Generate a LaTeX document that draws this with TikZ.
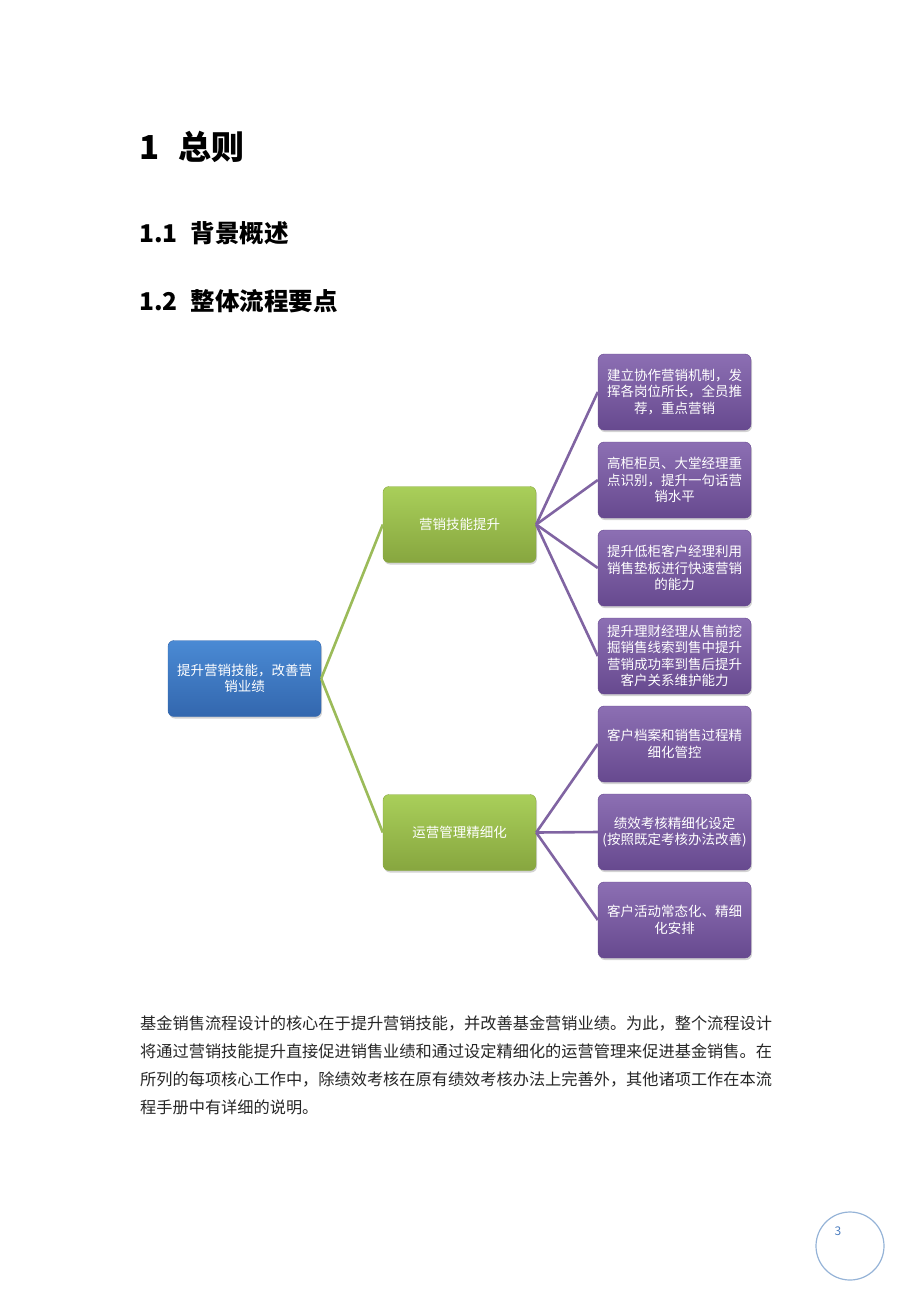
\documentclass[tikz,border=0pt]{standalone}
\usepackage{fontspec}
\setmainfont{Noto Sans CJK SC}
\usetikzlibrary{shadows}

\definecolor{rootblue}{HTML}{4A8AD4}
\definecolor{rootbluedk}{HTML}{3367AE}
\definecolor{leafgreen}{HTML}{A9CF5A}
\definecolor{leafgreendk}{HTML}{87A63F}
\definecolor{leafpurple}{HTML}{8C6FB3}
\definecolor{leafpurpledk}{HTML}{67498F}
\definecolor{linegreen}{HTML}{9BBB59}
\definecolor{linepurple}{HTML}{8064A2}
\definecolor{pageblue}{HTML}{95B3D7}
\definecolor{numblue}{HTML}{4F7FC0}

\begin{document}
\begin{tikzpicture}
  [x=1pt, y=-1pt,
   box/.style={rounded corners=6pt, minimum width=153pt, minimum height=76pt,
     align=center, text=white, font=\fontsize{13.5}{16.5}\selectfont,
     drop shadow={shadow xshift=1pt, shadow yshift=-2pt, opacity=.35}},
   rootbox/.style={box, top color=rootblue, bottom color=rootbluedk, draw=rootbluedk},
   midbox/.style={box, top color=leafgreen, bottom color=leafgreendk, draw=leafgreendk},
   leafbox/.style={box, top color=leafpurple, bottom color=leafpurpledk, draw=leafpurpledk},
   greenline/.style={draw=linegreen, line width=2.6pt},
   purpleline/.style={draw=linepurple, line width=2.6pt},
   head/.style={anchor=west, inner sep=0pt, font=\bfseries\fontsize{#1}{#1}\selectfont},
   bodyline/.style={anchor=west, text=black!85, inner sep=0pt, font=\fontsize{16.2}{20}\selectfont}]
  \useasboundingbox (0,0) rectangle (920,1302);

  % headings
  \node[head=33] (h1) at (139,147) {1\hspace{19pt}总则};
  \node[head=24.5] (h11) at (139,233) {1.1\hspace{13pt}背景概述};
  \node[head=24.5] (h12) at (139,301) {1.2\hspace{13pt}整体流程要点};

  % tree
  \node[rootbox] (root) at (244.5,678.5) {提升营销技能，改善营\\销业绩};
  \node[midbox] (skill) at (459.5,524.5) {营销技能提升};
  \node[midbox] (ops) at (459.5,832.5) {运营管理精细化};
  \foreach \i/\y/\txt in {
      1/392/{建立协作营销机制，发\\挥各岗位所长，全员推\\荐，重点营销},
      2/480/{高柜柜员、大堂经理重\\点识别，提升一句话营\\销水平},
      3/568/{提升低柜客户经理利用\\销售垫板进行快速营销\\的能力},
      4/656/{提升理财经理从售前挖\\掘销售线索到售中提升\\营销成功率到售后提升\\客户关系维护能力},
      5/744/{客户档案和销售过程精\\细化管控},
      6/832/{绩效考核精细化设定\\(按照既定考核办法改善)},
      7/920/{客户活动常态化、精细\\化安排}}
    \node[leafbox] (s\i) at (674.5,\y) {\txt};

  \draw[greenline] (root.east) -- (skill.west);
  \draw[greenline] (root.east) -- (ops.west);
  \foreach \i in {1,...,4}
    \draw[purpleline] (skill.east) -- (s\i.west);
  \foreach \i in {5,6,7}
    \draw[purpleline] (ops.east) -- (s\i.west);

  % text below
  \node[bodyline] (p1) at (140,1023) {基金销售流程设计的核心在于提升营销技能，并改善基金营销业绩。为此，整个流程设计};
  \node[bodyline] (p2) at (140,1051) {将通过营销技能提升直接促进销售业绩和通过设定精细化的运营管理来促进基金销售。在};
  \node[bodyline] (p3) at (140,1079) {所列的每项核心工作中，除绩效考核在原有绩效考核办法上完善外，其他诸项工作在本流};
  \node[bodyline] (p4) at (140,1107) {程手册中有详细的说明。};

  % page number
  \node[circle, draw=pageblue, line width=1.2pt, minimum size=68pt] (pagecircle) at (850,1246) {};
  \node[text=numblue, font=\fontsize{12}{12}\selectfont] (pagenum) at (838,1231) {3};
\end{tikzpicture}
\end{document}
